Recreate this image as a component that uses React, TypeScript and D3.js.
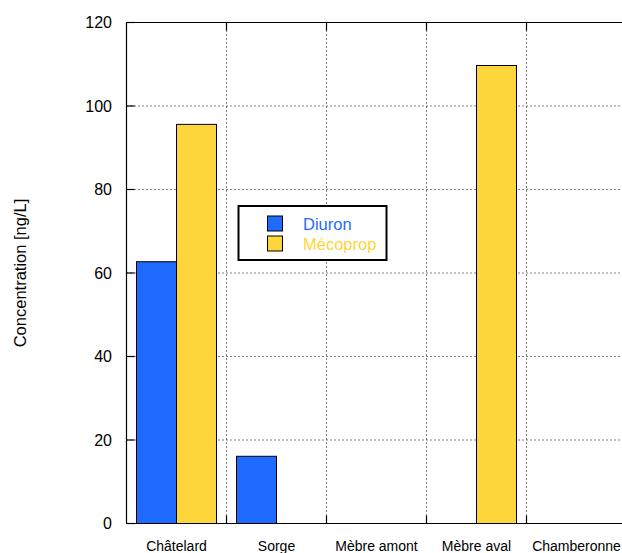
import React from "react";
import * as d3 from "d3";

// Sampling sites along the river
const sites = ["Châtelard", "Sorge", "Mèbre amont", "Mèbre aval", "Chamberonne"];
const seriesNames = ["Diuron", "Mécoprop"];
const diuron = [62.7, 16.1, 0, 0, 0];
const mecoprop = [95.6, 0, 0, 109.7, 0];
const yTicks = [0, 20, 40, 60, 80, 100, 120];
const seriesColors = ["#1f6bff", "#fdd63b"];

const W = 622;
const H = 553;
const plot = { left: 126.5, top: 22.5, right: 626.5, bottom: 523.5 };
const FONT = "'Liberation Sans', Arial, Helvetica, sans-serif";

export default function App() {
  const y = d3.scaleLinear().domain([0, 120]).range([plot.bottom, plot.top]);
  const x = d3.scaleBand<string>().domain(sites).range([plot.left, plot.right]).padding(0);
  const xInner = d3
    .scaleBand<string>()
    .domain(seriesNames)
    .range([0, x.bandwidth()])
    .paddingInner(0)
    .paddingOuter(0.25);

  const values = [diuron, mecoprop];
  const boundaries = sites.slice(1).map((s) => x(s) as number);
  const tickLen = 8;

  return (
    <svg
      width={W}
      height={H}
      style={{ position: "absolute", left: 0, top: 0, background: "#fff" }}
      fontFamily={FONT}
    >
      {/* dotted grid */}
      <g stroke="#000" strokeWidth={1} strokeDasharray="1,3" fill="none">
        {yTicks.slice(1).map((t) => (
          <line key={"gy" + t} x1={plot.left} x2={plot.right} y1={y(t)} y2={y(t)} />
        ))}
        {boundaries.map((bx, i) => (
          <line key={"gx" + i} x1={bx} x2={bx} y1={plot.top} y2={plot.bottom} />
        ))}
      </g>

      {/* bars */}
      {values.map((vals, si) =>
        vals.map((v, ci) =>
          v > 0 ? (
            <rect
              key={`b${si}-${ci}`}
              x={(x(sites[ci]) as number) + (xInner(seriesNames[si]) as number)}
              y={y(v)}
              width={xInner.bandwidth()}
              height={y(0) - y(v)}
              fill={seriesColors[si]}
              stroke="#000"
              strokeWidth={1}
            />
          ) : null
        )
      )}

      {/* axes frame and tick marks */}
      <g stroke="#000" strokeWidth={1.2} fill="none">
        <line x1={plot.left} x2={plot.left} y1={plot.top} y2={plot.bottom} />
        <line x1={plot.left} x2={W} y1={plot.bottom} y2={plot.bottom} />
        <line x1={plot.left} x2={W} y1={plot.top} y2={plot.top} />
        {yTicks.map((t) => (
          <line key={"ty" + t} x1={plot.left} x2={plot.left + tickLen} y1={y(t)} y2={y(t)} />
        ))}
        {boundaries.map((bx, i) => (
          <g key={"tx" + i}>
            <line x1={bx} x2={bx} y1={plot.bottom} y2={plot.bottom - tickLen} />
            <line x1={bx} x2={bx} y1={plot.top} y2={plot.top + tickLen} />
          </g>
        ))}
      </g>

      {/* y tick labels */}
      {yTicks.map((t) => (
        <text
          key={"ly" + t}
          x={112}
          y={y(t)}
          textAnchor="end"
          dominantBaseline="central"
          fontSize={16}
          fill="#000"
        >
          {t}
        </text>
      ))}

      {/* category labels */}
      {sites.map((s) => (
        <text
          key={"lx" + s}
          x={(x(s) as number) + x.bandwidth() / 2}
          y={551}
          textAnchor="middle"
          fontSize={14}
          fill="#000"
        >
          {s}
        </text>
      ))}

      {/* y axis title */}
      <text
        transform={`translate(26,273) rotate(-90)`}
        textAnchor="middle"
        fontSize={16.5}
        fill="#000"
      >
        Concentration [ng/L]
      </text>

      {/* legend */}
      <g>
        <rect x={238.5} y={206} width={148} height={54} fill="#fff" stroke="#000" strokeWidth={2} />
        {seriesNames.map((n, i) => (
          <g key={"lg" + n}>
            <rect
              x={267.5}
              y={216 + i * 20}
              width={15}
              height={15}
              fill={seriesColors[i]}
              stroke="#000"
              strokeWidth={1}
            />
            <text
              x={303}
              y={223.5 + i * 20}
              dominantBaseline="central"
              fontSize={16.5}
              fill={seriesColors[i]}
            >
              {n}
            </text>
          </g>
        ))}
      </g>
    </svg>
  );
}
